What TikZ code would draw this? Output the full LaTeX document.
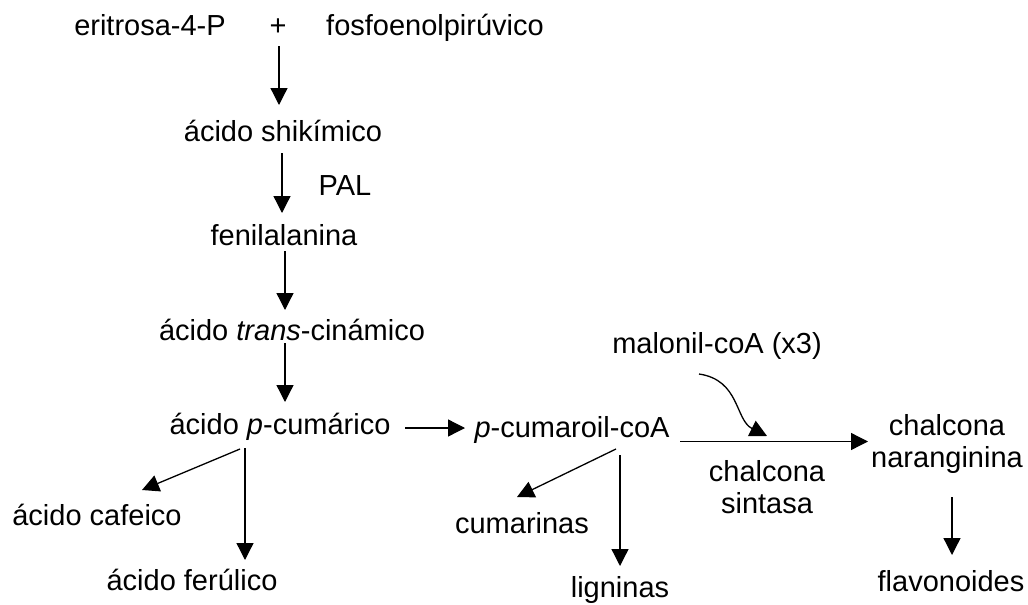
\documentclass[tikz,border=0pt]{standalone}
\usepackage{fontspec}
\setmainfont{Liberation Sans}
\usetikzlibrary{arrows.meta}
\tikzset{
  lbl/.style={inner sep=0pt, anchor=base, align=center, font=\fontsize{29}{31.5}\selectfont},
  arr/.style={line width=1.3pt, -{Triangle[length=17pt,width=17pt]}},
}
\begin{document}
\begin{tikzpicture}[x=1pt,y=-1pt]
\useasboundingbox[fill=white] (0,0) rectangle (1028,605);
% nodes
\node[lbl] (erit) at (150,35) {eritrosa-4-P};
\node[lbl] (plus) at (278,35) {+};
\node[lbl] (fosfo) at (435,35) {fosfoenolpirúvico};
\node[lbl] (shik) at (283,141) {ácido shikímico};
\node[lbl] (pal) at (345,195) {PAL};
\node[lbl] (fenil) at (284,245) {fenilalanina};
\node[lbl] (trans) at (292,340) {ácido \textit{trans}-cinámico};
\node[lbl] (pcum) at (280,434) {ácido \textit{p}-cumárico};
\node[lbl] (pcoa) at (572,437) {\textit{p}-cumaroil-coA};
\node[lbl] (malon) at (717,353) {malonil-coA (x3)};
\node[lbl] (chs) at (767,513) {chalcona\\sintasa};
\node[lbl] (chal) at (947,467) {chalcona\\naranginina};
\node[lbl] (flav) at (951,591) {flavonoides};
\node[lbl] (caf) at (97,525) {ácido cafeico};
\node[lbl] (fer) at (192,590) {ácido ferúlico};
\node[lbl] (cum) at (522,533) {cumarinas};
\node[lbl] (lig) at (620,597) {ligninas};
% connectors
\draw[arr] ([xshift=1pt,yshift=-11pt]plus.base) -- ([xshift=-4pt,yshift=36pt]shik.base);
\draw[arr] ([xshift=-1pt,yshift=-12pt]shik.base) -- ([xshift=-2pt,yshift=32pt]fenil.base);
\draw[arr] ([xshift=1pt,yshift=-6pt]fenil.base) -- ([xshift=-7pt,yshift=30pt]trans.base);
\draw[arr] ([xshift=-7pt,yshift=-3pt]trans.base) -- ([xshift=5pt,yshift=32pt]pcum.base);
\draw[arr] ([xshift=125pt,yshift=6pt]pcum.base) -- ([xshift=-107pt,yshift=9pt]pcoa.base);
\draw[arr] ([xshift=108pt,yshift=-4.5pt]pcoa.base) -- ([xshift=-79pt,yshift=25.5pt]chal.base);
\draw[arr] ([xshift=-18pt,yshift=-21pt]malon.base) .. controls +(41,6) and +(-32,-16) .. ([yshift=77pt]chs.base);
\draw[arr] ([xshift=-40pt,yshift=-15pt]pcum.base) -- ([xshift=45pt,yshift=35pt]caf.base);
\draw[arr] ([xshift=-35pt,yshift=-14pt]pcum.base) -- ([xshift=53pt,yshift=30pt]fer.base);
\draw[arr] ([xshift=44pt,yshift=-12pt]pcoa.base) -- ([xshift=-5pt,yshift=36pt]cum.base);
\draw[arr] ([xshift=48pt,yshift=-18pt]pcoa.base) -- ([yshift=31pt]lig.base);
\draw[arr] ([xshift=5pt,yshift=-30pt]chal.base) -- ([xshift=1pt,yshift=36pt]flav.base);
\end{tikzpicture}
\end{document}
